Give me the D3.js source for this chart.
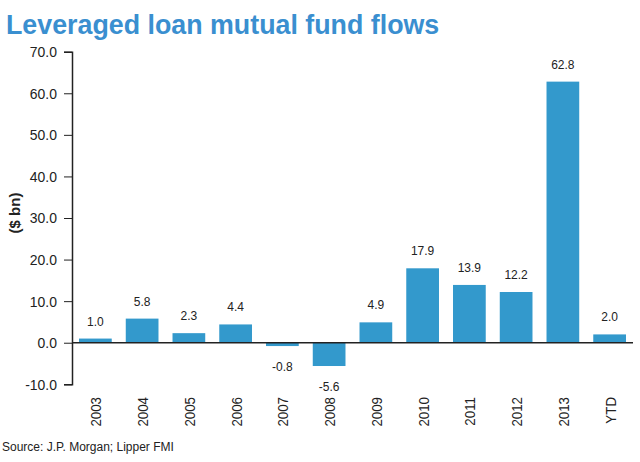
<!doctype html>
<html>
<head>
<meta charset="utf-8">
<script src="https://cdn.jsdelivr.net/npm/d3@7"></script>
<style>
  body { margin: 0; background: #fff; }
  svg { display: block; font-family: "Liberation Sans", Arial, sans-serif; }
</style>
</head>
<body>
<svg width="640" height="462"></svg>
<script>
var years = ["2003","2004","2005","2006","2007","2008","2009","2010","2011","2012","2013","YTD"];
var flows = [1.0, 5.8, 2.3, 4.4, -0.8, -5.6, 4.9, 17.9, 13.9, 12.2, 62.8, 2.0];
var yTicks = [-10, 0, 10, 20, 30, 40, 50, 60, 70];

var svg = d3.select("svg");
var plotLeft = 72, plotRight = 633, plotTop = 51.7, plotBottom = 384.3;

var x = d3.scaleBand().domain(years).range([plotLeft, plotRight]).paddingInner(0.3).paddingOuter(0.15);
var y = d3.scaleLinear().domain([-10, 70]).range([plotBottom, plotTop]);

// title
svg.append("text")
  .attr("x", 6).attr("y", 34)
  .attr("fill", "#3a8fd0")
  .attr("font-weight", "bold")
  .attr("font-size", 26.8)
  .text("Leveraged loan mutual fund flows");

// y axis
var yAxis = d3.axisLeft(y).tickValues(yTicks).tickSize(8)
  .tickFormat(function(d) { return d.toFixed(1); });
var gy = svg.append("g")
  .attr("transform", "translate(" + plotLeft + ",0)").call(yAxis);
gy.select(".domain").attr("stroke", "#222").attr("stroke-width", 1.5);
gy.selectAll(".tick line").attr("stroke", "#222");
gy.selectAll(".tick text")
  .attr("x", 0)
  .attr("transform", "translate(-15,0) scale(0.9,1)")
  .attr("font-size", 15.5)
  .attr("fill", "#222");

// bars
svg.selectAll(".bar").data(flows).enter().append("rect")
  .attr("class", "bar")
  .attr("x", function(d, i) { return x(years[i]); })
  .attr("width", x.bandwidth())
  .attr("y", function(d) { return y(Math.max(0, d)); })
  .attr("height", function(d) { return Math.abs(y(d) - y(0)); })
  .attr("fill", "#3399cc");

// zero line
svg.append("line")
  .attr("x1", plotLeft).attr("x2", plotRight)
  .attr("y1", y(0)).attr("y2", y(0))
  .attr("stroke", "#222").attr("stroke-width", 1.5);

// value labels
svg.selectAll(".val").data(flows).enter().append("text")
  .attr("class", "val")
  .attr("x", function(d, i) { return x(years[i]) + x.bandwidth() / 2; })
  .attr("y", function(d) { return d >= 0 ? y(d) - 13 : y(d) + 25; })
  .attr("text-anchor", "middle")
  .attr("font-size", 12)
  .attr("fill", "#222")
  .text(function(d) { return d.toFixed(1); });

// x labels (rotated)
svg.selectAll(".xl").data(years).enter().append("text")
  .attr("class", "xl")
  .attr("transform", function(d) {
    return "translate(" + (x(d) + x.bandwidth() / 2 + 6) + ",397) rotate(-90) scale(0.86,1)";
  })
  .attr("text-anchor", "end")
  .attr("font-size", 15.5)
  .attr("fill", "#222")
  .text(function(d) { return d; });

// y axis title
svg.append("text")
  .attr("transform", "translate(20,213) rotate(-90)")
  .attr("text-anchor", "middle")
  .attr("font-weight", "bold")
  .attr("font-size", 15)
  .attr("fill", "#222")
  .text("($ bn)");

// source
svg.append("text")
  .attr("x", 2).attr("y", 451)
  .attr("font-size", 12)
  .attr("fill", "#222")
  .text("Source: J.P. Morgan; Lipper FMI");
</script>
</body>
</html>
